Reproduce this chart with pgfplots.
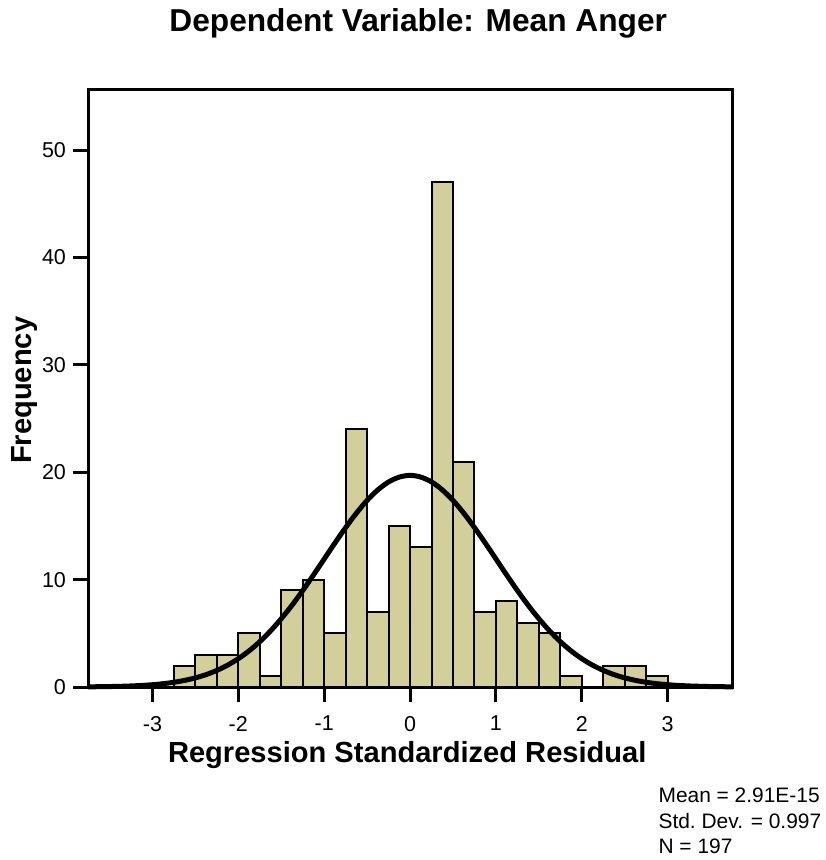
\documentclass[border=0pt]{standalone}
\usepackage{pgfplots}
\pgfplotsset{compat=1.18}
\usepackage{fontspec}
\setmainfont{Liberation Sans}
\definecolor{barfill}{RGB}{211,207,155}
\begin{document}
\begin{tikzpicture}
\path[use as bounding box] (0,0) rectangle (413bp,430bp);
\begin{axis}[
	at={(44bp,86.5bp)}, anchor=south west,
	scale only axis,
	width=322.5bp, height=298.5bp,
	xmin=-3.75, xmax=3.76,
	ymin=0, ymax=55.6,
	axis on top,
	axis line style={line width=1.5bp},
	every tick/.style={black, line width=1.5bp},
	tick align=outside,
	xtick pos=left, ytick pos=left,
	major tick length=7.5bp,
	xtick={-3,-2,...,3},
	ytick={0,10,...,50},
	/pgf/number format/assume math mode=true,
	tick label style={font=\fontsize{10.8}{13}\selectfont},
	xticklabel style={yshift=-3.5bp},
	xlabel={Regression Standardized Residual},
	xlabel style={font=\bfseries\fontsize{14.6}{17}\selectfont, at={(axis description cs:0.495,-0.114)}, anchor=center},
	ylabel={Frequency},
	ylabel style={font=\bfseries\fontsize{14.6}{17}\selectfont, at={(axis description cs:-0.098,0.497)}, anchor=center},
	clip=false,
]
\addplot[ybar interval, fill=barfill, draw=black, line width=1bp] coordinates {
	(-2.75,2) (-2.5,3) (-2.25,3) (-2.0,5) (-1.75,1) (-1.5,9) (-1.25,10)
	(-1.0,5) (-0.75,24) (-0.5,7) (-0.25,15) (0.0,13) (0.25,47) (0.5,21)
	(0.75,7) (1.0,8) (1.25,6) (1.5,5) (1.75,1) (2.0,0) (2.25,2) (2.5,2)
	(2.75,1) (3.0,0)
};
\addplot[black, line width=2.5bp, smooth, mark=none] coordinates {
	(-3.75,0.0167) (-3.625,0.0265) (-3.5,0.0415) (-3.375,0.064) (-3.25,0.097)
	(-3.125,0.145) (-3.0,0.213) (-2.875,0.308) (-2.75,0.439) (-2.625,0.616)
	(-2.5,0.850) (-2.375,1.154) (-2.25,1.544) (-2.125,2.033) (-2.0,2.635)
	(-1.875,3.36) (-1.75,4.22) (-1.625,5.22) (-1.5,6.36) (-1.375,7.61)
	(-1.25,8.98) (-1.125,10.43) (-1.0,11.92) (-0.875,13.41) (-0.75,14.85)
	(-0.625,16.19) (-0.5,17.38) (-0.375,18.36) (-0.25,19.10) (-0.125,19.55)
	(0.0,19.71)
	(0.125,19.55) (0.25,19.10) (0.375,18.36) (0.5,17.38) (0.625,16.19)
	(0.75,14.85) (0.875,13.41) (1.0,11.92) (1.125,10.43) (1.25,8.98)
	(1.375,7.61) (1.5,6.36) (1.625,5.22) (1.75,4.22) (1.875,3.36)
	(2.0,2.635) (2.125,2.033) (2.25,1.544) (2.375,1.154) (2.5,0.850)
	(2.625,0.616) (2.75,0.439) (2.875,0.308) (3.0,0.213) (3.125,0.145)
	(3.25,0.097) (3.375,0.064) (3.5,0.0415) (3.625,0.0265) (3.76,0.016)
};
\node[anchor=center, font=\bfseries\fontsize{15.9}{18}\selectfont]
	at (axis description cs:0.512,1.112) {Dependent Variable: Mean Anger};
\node[anchor=north west, inner sep=0pt, align=left, font=\fontsize{10.5}{12.75}\selectfont]
	at (axis description cs:0.884,-0.169) {Mean = 2.91E-15\\Std.\ Dev. = 0.997\\N = 197};
\end{axis}
\end{tikzpicture}
\end{document}
